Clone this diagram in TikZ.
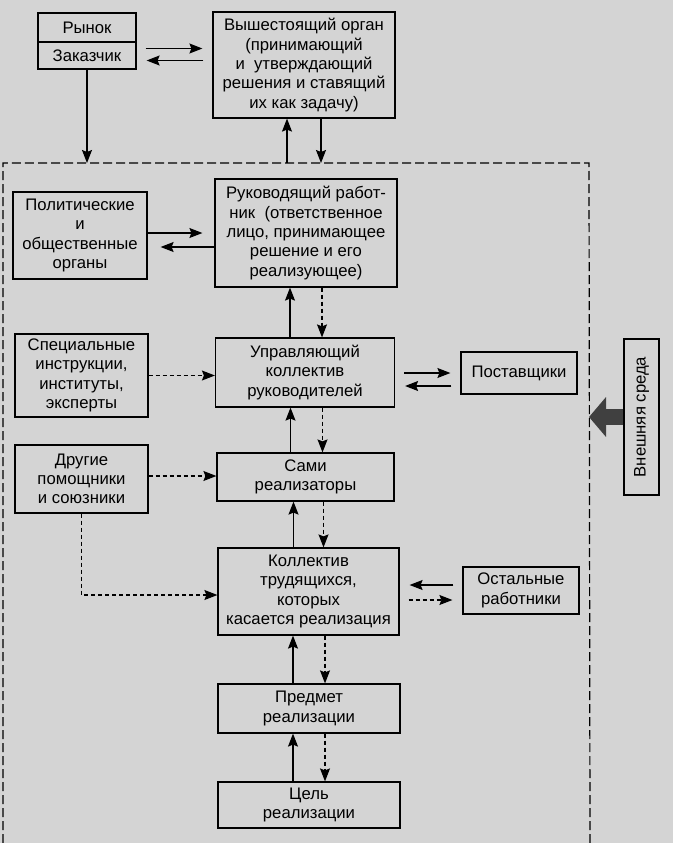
\documentclass[tikz,border=0pt]{standalone}
\usepackage{fontspec}
\setmainfont{Liberation Sans}
\usetikzlibrary{arrows.meta}

\begin{document}
\begin{tikzpicture}[
    x=1pt, y=-1pt,
    box/.style={draw, line width=1.2pt, align=center, inner sep=1pt,
      font=\fontsize{16.7}{19.3}\selectfont},
    arr/.style={line width=1.1pt, -{Stealth[length=13pt,width=10pt,inset=2pt]}},
    darr/.style={arr, dash pattern=on 4pt off 3pt},
    gap/.style={shorten <=9pt, shorten >=10pt},
    frame/.style={line width=1.2pt, dash pattern=on 9pt off 4pt},
    bigarr/.style={line width=16pt, black!75, -{Triangle[length=17pt,width=39pt]}}
    ]
    \fill[black!17] (0,0) rectangle (673,843);
    \useasboundingbox (0,0) rectangle (673,843);

    \coordinate (fr-tl) at (3,163);
    \coordinate (fr-tr) at (589,163);
    \coordinate (fr-bl) at (3,843);
    \coordinate (fr-br) at (590,843);
    \draw[frame] (fr-bl) -- (fr-tl) -- (fr-tr) -- (fr-br);

    \node[box, minimum width=98pt, minimum height=29pt] (rynok) at (87,27.5) {Рынок};
    \node[box, minimum width=98pt, minimum height=27pt] (zak) at (87,55.5) {Заказчик};
    \node[box, minimum width=182pt, minimum height=106pt] (vysh) at (304,65)
      {Вышестоящий орган\\(принимающий\\и\ \ утверждающий\\решения и ставящий\\их как задачу)};
    \node[box, minimum width=182pt, minimum height=108pt] (ruk) at (306,233)
      {Руководящий работ-\\ник\ \ (ответственное\\лицо, принимающее\\решение и его\\реализующее)};
    \node[box, minimum width=134pt, minimum height=87pt] (pol) at (80,235.5)
      {Политические\\и\\общественные\\органы};
    \node[box, minimum width=133pt, minimum height=83pt] (spec) at (81.5,375.5)
      {Специальные\\инструкции,\\институты,\\эксперты};
    \node[box, minimum width=179pt, minimum height=69pt] (upr) at (305,372.5)
      {Управляющий\\коллектив\\руководителей};
    \node[box, minimum width=116pt, minimum height=42pt] (post) at (519,373) {Поставщики};
    \node[box, rotate=90, minimum width=156pt, minimum height=35pt] (vnesh) at (641.5,417)
      {Внешняя среда};
    \node[box, minimum width=133pt, minimum height=68pt] (drug) at (81.5,479)
      {Другие\\помощники\\и союзники};
    \node[box, minimum width=177pt, minimum height=48pt] (sami) at (305.5,477)
      {Сами\\реализаторы};
    \node[box, minimum width=181pt, minimum height=87pt] (koll) at (308.5,591.5)
      {Коллектив\\трудящихся,\\которых\\касается реализация};
    \node[box, minimum width=116pt, minimum height=47pt] (ost) at (521,590.5)
      {Остальные\\работники};
    \node[box, minimum width=182pt, minimum height=49pt] (pred) at (309,708.5)
      {Предмет\\реализации};
    \node[box, minimum width=182pt, minimum height=46pt] (cel) at (309,805)
      {Цель\\реализации};

    % top
    \draw[arr, gap] ([yshift=7pt]zak.east) -- ([yshift=7pt]zak.east -| vysh.west);
    \draw[arr, gap] ([yshift=-5pt]zak.east -| vysh.west) -- ([yshift=-5pt]zak.east);
    \draw[arr] (zak.south) -- (zak.south |- fr-tl);
    \draw[arr] ([xshift=-17pt]vysh.south |- fr-tl) -- ([xshift=-17pt]vysh.south);
    \draw[arr] ([xshift=17pt]vysh.south) -- ([xshift=17pt]vysh.south |- fr-tl);

    \draw[arr, shorten >=12pt] ([yshift=2.5pt]pol.east) -- ([yshift=2.5pt]pol.east -| ruk.west);
    \draw[arr, shorten >=13pt] ([yshift=-14pt]ruk.west) -- ([yshift=-14pt]ruk.west -| pol.east);

    \draw[arr] ([xshift=-15pt]upr.north) -- ([xshift=-15pt]upr.north |- ruk.south);
    \draw[darr] ([xshift=17pt]upr.north |- ruk.south) -- ([xshift=17pt]upr.north);
    \draw[darr] (spec.east) -- (spec.east -| upr.west);
    \draw[arr, gap] (post.west -| upr.east) -- (post.west);
    \draw[arr, gap] ([yshift=-13pt]post.west) -- ([yshift=-13pt]post.west -| upr.east);
    \draw[bigarr] (vnesh.north) -- (vnesh.north -| fr-tr);

    \draw[arr] ([xshift=-15pt]sami.north) -- ([xshift=-15pt]sami.north |- upr.south);
    \draw[darr] ([xshift=17pt]sami.north |- upr.south) -- ([xshift=17pt]sami.north);
    \draw[darr] ([yshift=3pt]drug.east) -- ([yshift=3pt]drug.east -| sami.west);

    % lower part
    \draw[arr] ([xshift=-15pt]koll.north) -- ([xshift=-15pt]koll.north |- sami.south);
    \draw[darr] ([xshift=15pt]koll.north |- sami.south) -- ([xshift=15pt]koll.north);
    \draw[darr] (drug.south) |- ([yshift=-3.5pt]koll.west);
    \draw[arr, gap] ([yshift=5.5pt]ost.west) -- ([yshift=5.5pt]ost.west -| koll.east);
    \draw[darr, gap] ([yshift=-9.5pt]ost.west -| koll.east) -- ([yshift=-9.5pt]ost.west);

    \draw[arr] ([xshift=-16pt]pred.north) -- ([xshift=-16pt]pred.north |- koll.south);
    \draw[darr] ([xshift=16pt]pred.north |- koll.south) -- ([xshift=16pt]pred.north);
    \draw[arr] ([xshift=-16pt]cel.north) -- ([xshift=-16pt]cel.north |- pred.south);
    \draw[darr] ([xshift=16pt]cel.north |- pred.south) -- ([xshift=16pt]cel.north);
  \end{tikzpicture}
\end{document}
